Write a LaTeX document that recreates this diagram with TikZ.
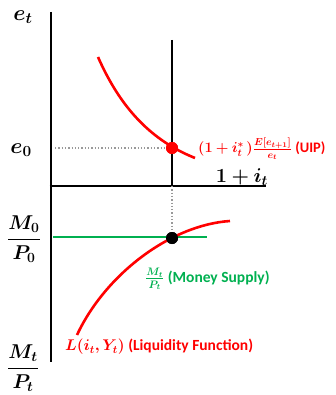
\RequirePackage{fix-cm}
\documentclass[tikz,border=0pt]{standalone}
\usepackage{fontspec}
\setsansfont{Carlito}
\usepackage{amsmath}
\usepackage{bm}
\definecolor{uipred}{RGB}{255,0,0}
\definecolor{msgreen}{RGB}{0,176,80}
\begin{document}
\begin{tikzpicture}[x=1pt,y=-1pt,
  axis/.style={line width=2.6pt,black},
  guide/.style={line width=1.3pt,gray!80,dotted},
  redcurve/.style={line width=2.6pt,uipred},
  greenline/.style={line width=2.6pt,msgreen},
  dotnode/.style={circle,inner sep=0pt,minimum size=12pt},
  biglab/.style={inner sep=0pt,font=\fontsize{22}{25}\selectfont},
  midlab/.style={inner sep=0pt,font=\fontsize{20}{23}\selectfont},
  smalllab/.style={inner sep=0pt,anchor=west,font=\fontsize{15.5}{18}\selectfont\sffamily\bfseries}]
\useasboundingbox (0,0) rectangle (335,395);
% axes
\coordinate (ytop) at (51,12);
\coordinate (ybot) at (51,362);
\coordinate (xl) at (49.7,186);
\coordinate (xr) at (266,186);
\coordinate (vtop) at (172,40);
\coordinate (vbot) at (172,186);
\draw[axis] (ytop) -- (ybot);
\draw[axis] (xl) -- (xr);
\draw[axis] (vtop) -- (vbot);
% dots
\node[dotnode,fill=uipred] (eq1) at (172,148) {};
\node[dotnode,fill=black] (eq2) at (172,238) {};
% guides
\coordinate (g1) at (55,148);
\draw[guide] (g1) -- (eq1.center);
\draw[guide] (vbot) -- (eq2.north);
% UIP curve
\coordinate (u0) at (98,57);
\coordinate (u1) at (195,158);
\draw[redcurve] (u0) .. controls (117,100) and (145,138) .. (u1);
% money supply
\coordinate (m0) at (53,237);
\coordinate (m1) at (207,237);
\draw[greenline] (m0) -- (m1);
% liquidity curve
\coordinate (l0) at (77,335);
\coordinate (l1) at (230,221);
\draw[redcurve] (l0) .. controls (105,275) and (170,225) .. (l1);
\node[dotnode,fill=black] at (eq2) {};
\node[dotnode,fill=uipred] at (eq1) {};
% labels
\node[biglab] (et) at (23,17) {$\bm{e_t}$};
\node[biglab] (e0) at (21,150) {$\bm{e_0}$};
\node[midlab] (oneplus) at (242,177) {$\bm{1+i_t}$};
\node[midlab] (m0p0) at (24,239) {$\bm{\dfrac{M_0}{P_0}}$};
\node[midlab] (mtpt) at (23,368) {$\bm{\dfrac{M_t}{P_t}}$};
\node[smalllab,text=uipred,font=\fontsize{14.5}{17}\selectfont\sffamily\bfseries] (uip) at (198,149) {$\bm{(1+i_t^{*}\,)\frac{E[e_{t+1}]}{e_t}}$ (UIP)};
\node[smalllab,text=msgreen] (ms) at (145,279) {$\bm{\frac{M_t}{P_t}}$ (Money Supply)};
\node[smalllab,text=uipred] (lf) at (65,347) {$\bm{L(i_t,Y_t)}$ (Liquidity Function)};
\end{tikzpicture}
\end{document}
